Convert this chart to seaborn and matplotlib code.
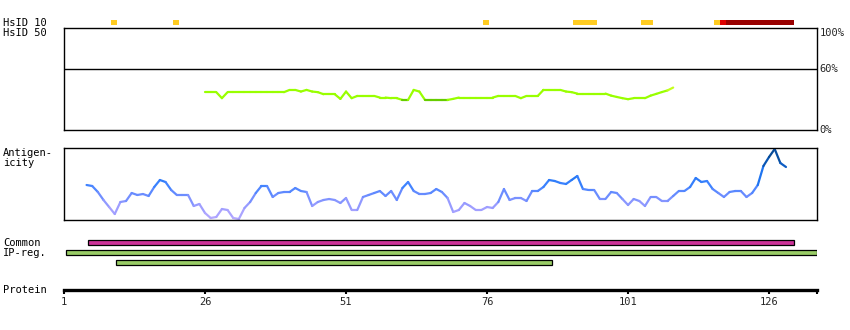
import numpy as np
import matplotlib
matplotlib.use("Agg")
import matplotlib.pyplot as plt
import matplotlib.transforms as mtransforms
from matplotlib.collections import LineCollection
from matplotlib.colors import LinearSegmentedColormap
import seaborn as sns

# ---------------- data ----------------
protein_end = 134.5
axis_ticks = [1, 26, 51, 76, 101, 126]

# HsID 10 track segments (residue coordinates)
hs10_starts = [9.3, 20.3, 75.3, 91.3, 103.3, 116.2, 117.3, 118.4]
hs10_ends = [10.4, 21.4, 76.4, 95.5, 105.4, 117.3, 118.4, 130.4]
hs10_colors = ["#ffcc22", "#ffcc22", "#ffcc22", "#ffcc22", "#ffcc22",
               "#ffcc22", "#dd0000", "#990000"]

# HsID 50 identity (%) per residue starting at residue 26
hs50_start = 26
hs50_values = [37.1, 37.1, 37.1, 31.2, 37.1, 37.1, 37.1, 37.1, 37.1, 37.1,
               37.1, 37.1, 37.1, 37.1, 37.1, 39.3, 39.3, 37.7, 39.3, 37.7,
               37.1, 35.1, 35.1, 35.1, 30.5, 37.7, 31.2, 33.4, 33.4, 33.4,
               33.4, 31.8, 31.8, 31.2, 31.2, 29.5, 29.5, 39.3, 37.7, 29.5,
               29.5, 29.5, 29.5, 29.5, 30.5, 31.8, 31.8, 31.8, 31.8, 31.8,
               31.8, 31.8, 33.4, 33.4, 33.4, 33.4, 31.2, 33.4, 33.4, 33.4,
               39.3, 39.3, 39.3, 39.3, 37.7, 37.1, 35.7, 35.7, 35.7, 35.7,
               35.7, 35.7, 33.7, 32.4, 31.2, 30.2, 31.2, 31.2, 31.2, 33.7,
               35.4, 37.2, 38.8, 41.6]

# Antigenicity score per residue starting at residue 5 (arbitrary units 0-72)
antigen_start = 5
antigen_values = [35, 34, 28, 20, 13, 6, 18, 19, 27, 25,
                  26, 24, 33, 40, 38, 30, 25, 25, 25, 14,
                  16, 7, 2, 3, 11, 10, 2, 1, 12, 18,
                  27, 34, 34, 23, 27, 28, 28, 32, 29, 28,
                  14, 18, 20, 21, 20, 17, 22, 10, 10, 23,
                  25, 27, 29, 24, 29, 20, 32, 38, 29, 26,
                  26, 27, 31, 28, 22, 8, 10, 17, 14, 10,
                  10, 13, 12, 18, 31, 20, 22, 22, 19, 29,
                  29, 33, 40, 39, 37, 36, 40, 44, 31, 30,
                  30, 21, 21, 28, 27, 21, 15, 21, 19, 14,
                  23, 23, 19, 19, 24, 29, 29, 33, 42, 38,
                  39, 31, 27, 23, 28, 29, 29, 23, 27, 35,
                  54, 63, 71, 57, 53]

# Common / IP-reg tracks
track_rows = [0, 1, 2]
track_starts = [5.3, 1.4, 10.3]
track_ends = [130.4, 134.5, 87.5]
track_colors = ["#cc3399", "#99cc66", "#99cc66"]

left_labels = [("HsID 10", 22.7), ("HsID 50", 32.7), ("Antigen-", 153),
               ("icity", 163), ("Common", 243), ("IP-reg.", 253),
               ("Protein", 290)]

# ---------------- style ----------------
sns.set_theme(style="white")
plt.rcParams["font.family"] = ["DejaVu Sans Mono", "DejaVu Sans"]
FS = 7.5

W, H = 850, 330
fig = plt.figure(figsize=(W / 100, H / 100), dpi=100)
fig.patch.set_facecolor("white")
X0, X1 = 64, 817


def add_ax(y0, y1, x0=X0, x1=X1):
    ax = fig.add_axes([x0 / W, 1 - y1 / H, (x1 - x0) / W, (y1 - y0) / H])
    ax.set_xlim(1, protein_end)
    ax.set_facecolor("none")
    return ax


def box(ax):
    ax.set_xticks([])
    ax.set_yticks([])
    for s in ax.spines.values():
        s.set_visible(True)
        s.set_color("black")
        s.set_linewidth(1.0)


# HsID 10 track
ax10 = add_ax(20, 25)
ax10.set_ylim(0, 1)
ax10.barh([0.5] * len(hs10_starts),
          np.array(hs10_ends) - np.array(hs10_starts),
          left=hs10_starts, height=1.0, color=hs10_colors, linewidth=0)
ax10.axis("off")

# HsID 50 panel
ax50 = add_ax(28, 130)
ax50.set_ylim(0, 100)
box(ax50)
ax50.axhline(60, color="black", lw=1.0)
res50 = np.arange(hs50_start, hs50_start + len(hs50_values))
pts = np.column_stack([res50, hs50_values])
segs = np.stack([pts[:-1], pts[1:]], axis=1)
vmax = np.maximum(np.array(hs50_values[:-1]), np.array(hs50_values[1:]))
gcols = []
for v in vmax:
    if v < 30:
        gcols.append("#66cc00")
    elif v < 40:
        gcols.append("#99ff00")
    else:
        gcols.append("#c4ff1a")
lc = LineCollection(segs, colors=gcols, linewidths=1.6, capstyle="round",
                    joinstyle="round")
ax50.add_collection(lc)
tr = mtransforms.blended_transform_factory(ax50.transAxes, ax50.transData)
ax50.text(1.003, 100, "100%", transform=tr, va="top", ha="left", fontsize=FS)
ax50.text(1.003, 60, "60%", transform=tr, va="center", ha="left", fontsize=FS)
ax50.text(1.003, 0, "0%", transform=tr, va="center", ha="left", fontsize=FS)

# Antigenicity panel
axa = add_ax(148, 220)
axa.set_ylim(0, 72)
box(axa)
resa = np.arange(antigen_start, antigen_start + len(antigen_values))
pts = np.column_stack([resa, antigen_values])
segs = np.stack([pts[:-1], pts[1:]], axis=1)
vmean = (np.array(antigen_values[:-1]) + np.array(antigen_values[1:])) / 2
cmap = LinearSegmentedColormap.from_list(
    "ag", [(0.0, "#b8aaff"), (0.2, "#9a9cff"), (0.35, "#6a8cff"),
           (0.5, "#3a82ff"), (0.62, "#1f74f0"), (0.8, "#0a58b8"),
           (1.0, "#064488")])
lc = LineCollection(segs, colors=cmap(vmean / 72), linewidths=1.6,
                    capstyle="round", joinstyle="round")
axa.add_collection(lc)

# Common / IP-reg tracks
axt = add_ax(237.4, 267.4)
axt.set_ylim(2.5, -0.5)
axt.barh(track_rows, np.array(track_ends) - np.array(track_starts),
         left=track_starts, height=0.47, color=track_colors,
         edgecolor="black", linewidth=0.9)
axt.axis("off")

# Protein axis
axp = add_ax(280, 290)
for k in ["top", "left", "right"]:
    axp.spines[k].set_visible(False)
axp.spines["bottom"].set_visible(True)
axp.spines["bottom"].set_color("black")
axp.spines["bottom"].set_linewidth(2.4)
axp.set_yticks([])
axp.set_xticks(axis_ticks + [protein_end])
axp.set_xticklabels([str(t) for t in axis_ticks] + [""], fontsize=FS)
axp.tick_params(axis="x", direction="out", length=2.8, width=1.5,
                color="black", pad=2.2, bottom=True)

for txt, y in left_labels:
    fig.text(3 / W, 1 - y / H, txt, va="center", ha="left", fontsize=FS,
             color="black")

fig.savefig("out.png", dpi=100, facecolor="white")
